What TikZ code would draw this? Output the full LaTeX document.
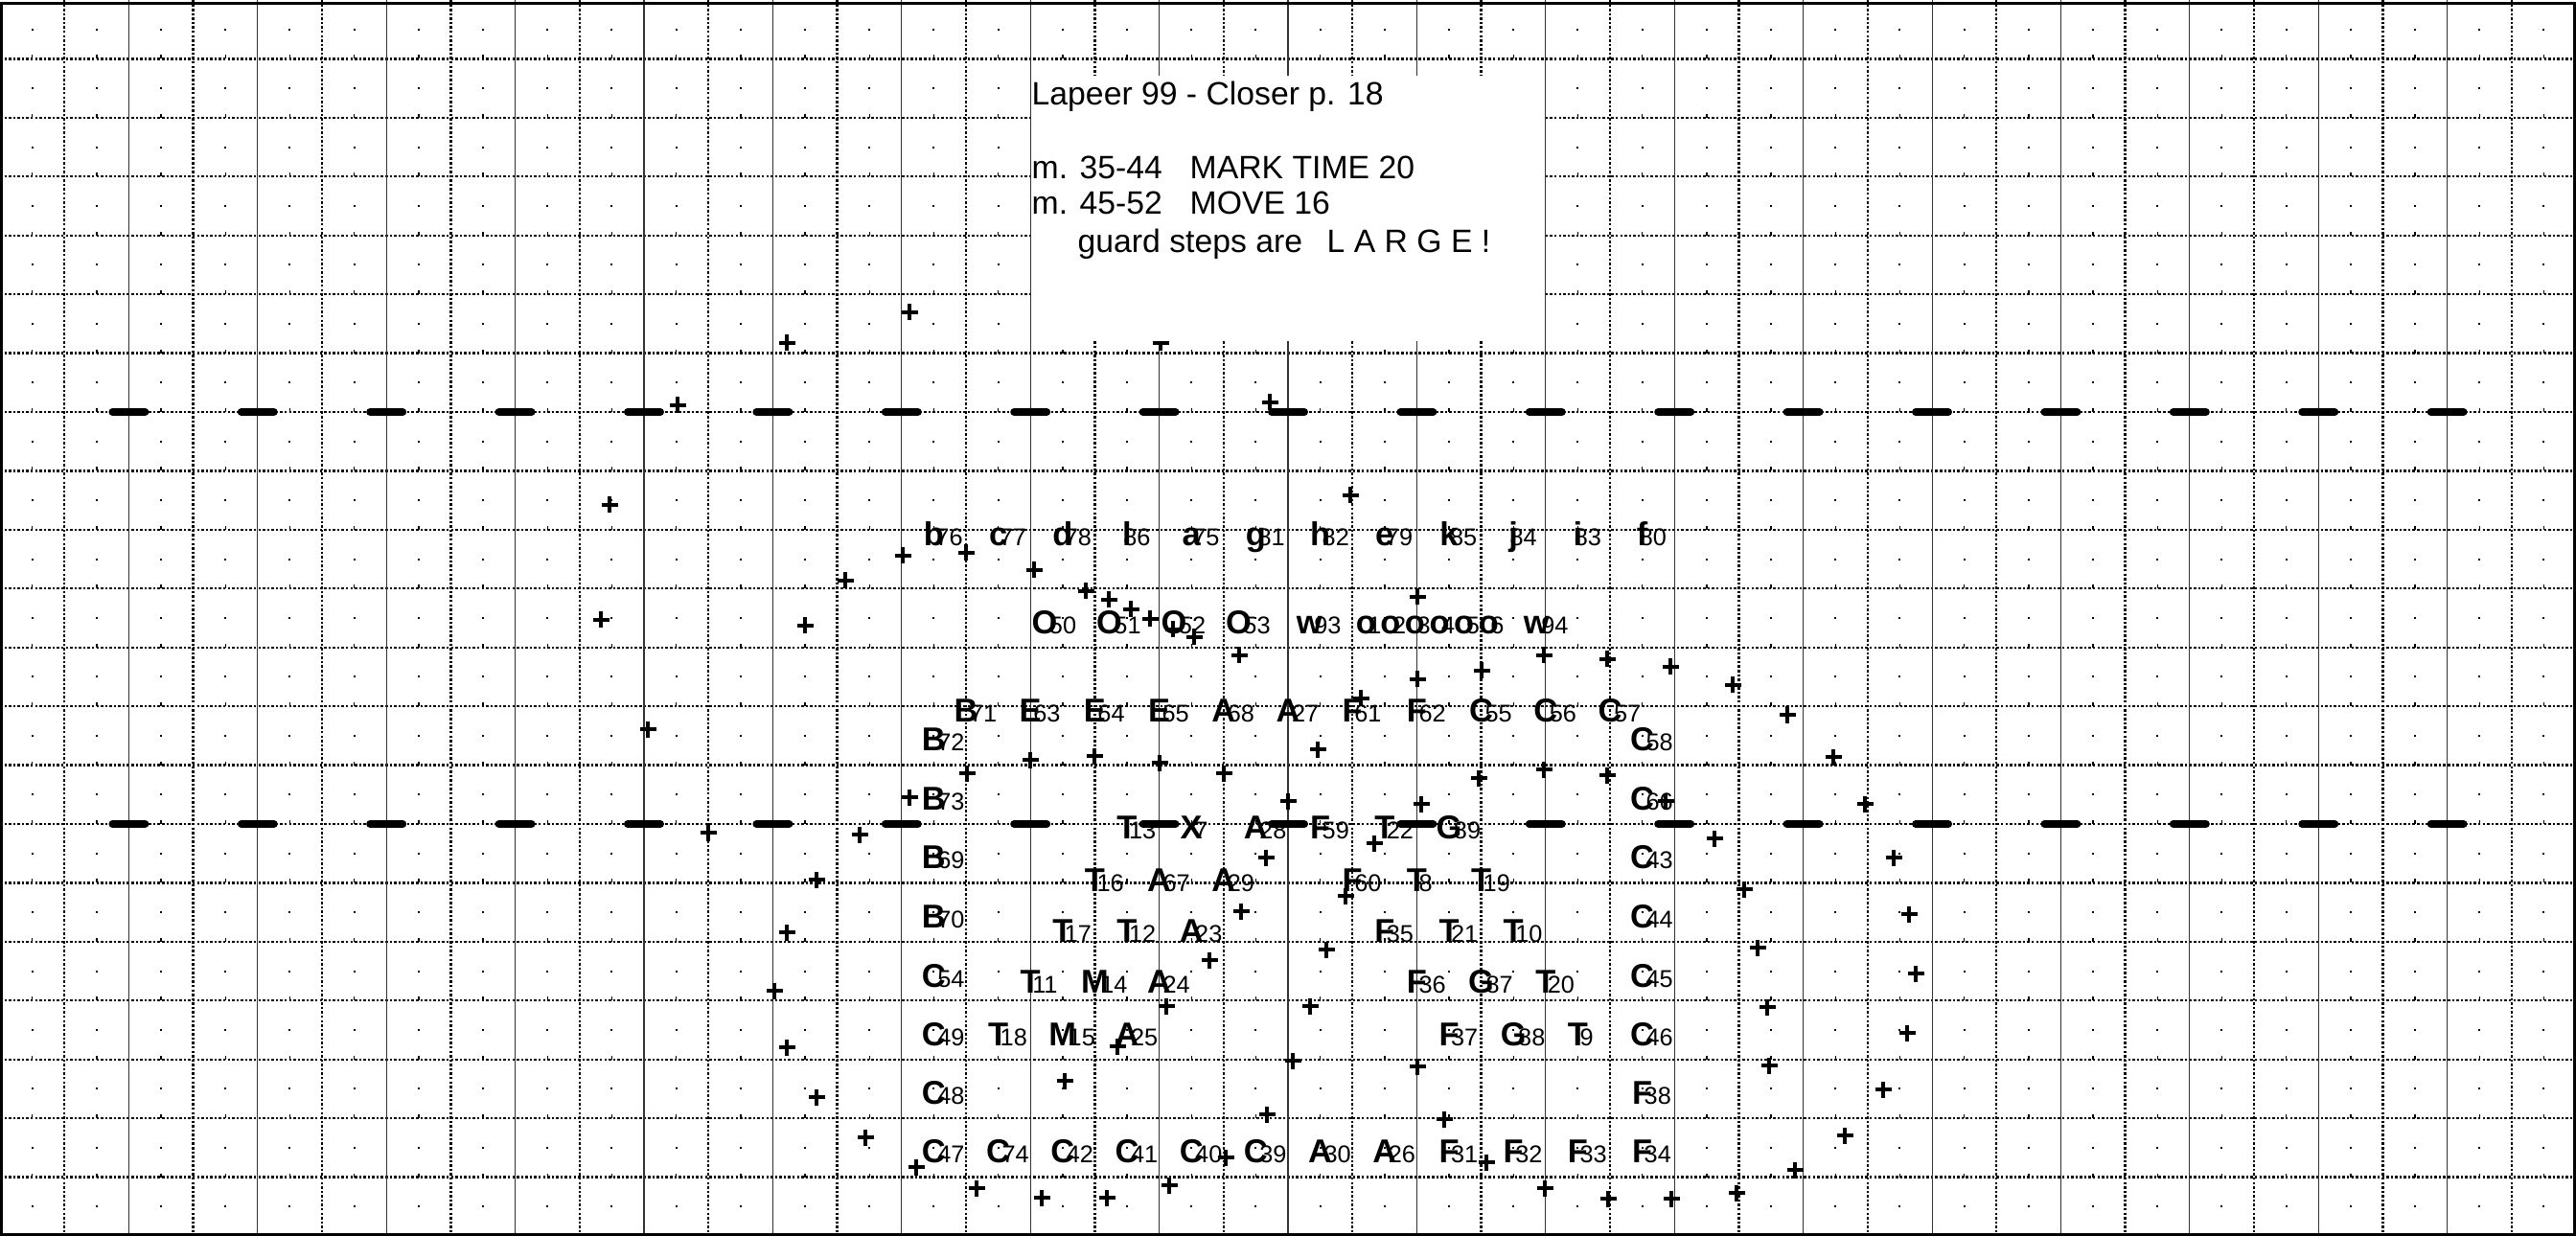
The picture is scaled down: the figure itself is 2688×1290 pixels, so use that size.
\documentclass[tikz,border=0pt]{standalone}
\usepackage{fontspec}
\setmainfont{Liberation Sans}
\newcommand{\drill}[2]{{\fontsize{9.8}{10}\selectfont\bfseries #1}\rlap{\kern-2.4pt\fontsize{7.2}{8}\selectfont #2}}
\tikzset{
  dotline/.style={line width=0.65pt,dash pattern=on 0.7pt off 0.6pt},
  solidline/.style={line width=0.3pt,black!80},
  tickmark/.style={line width=0.4pt},
  hashmark/.style={line width=0.8mm,line cap=round},
  spot/.style={line width=0.42mm},
  lbl/.style={inner sep=0pt,anchor=base},
  note/.style={inner sep=0pt,anchor=base west,font=\fontsize{9.6}{11}\selectfont}
}
\begin{document}
\begin{tikzpicture}[x=0.1mm,y=-0.1mm]
  \useasboundingbox (0,0) rectangle (2688,1290);
  % Step dots
  \foreach \i in {0,...,39} {
    \foreach \j in {0,...,20} {
      \fill (67.2*\i+32.6,61.43*\j+29.7) rectangle ++(2,2);
    }
  }
  % Grid lines
  \foreach \j in {1,...,20} {
    \draw[dotline] (0,61.43*\j) -- (2688,61.43*\j);
    \foreach \i in {0,...,39}
      \draw[tickmark] (67.2*\i+33.6,61.43*\j) -- ++(0,-4);
  }
  \foreach \i in {0,...,19}
    \draw[dotline] ({67.2*(2*\i+1)},0) -- ({67.2*(2*\i+1)},1290);
  \foreach \i in {1,...,19}
    \draw[solidline] (134.4*\i,0) -- (134.4*\i,1290);
  % Hash marks
  \foreach \j in {430,860} {
    \foreach \i in {1,...,19}
      \draw[hashmark] (134.4*\i-17,\j) -- (134.4*\i+17,\j);
  }
  % Frame
  \draw[line width=0.25mm] (1.5,3.5) rectangle (2686.5,1288.5);
  % Cross under the note
  \draw[spot] (1211,358) +(-8.5,0) -- +(8.5,0) +(0,-8.5) -- +(0,8.5);
  % Note
  \fill[white] (1076,79) rectangle (1612,356);
  \node[note] (title) at (1076,110) {Lapeer 99 - Closer p. 18};
  \node[note] (note1) at (1076,186.7) {\makebox[1.65cm][l]{m. 35-44}MARK TIME 20};
  \node[note] (note2) at (1076,224) {\makebox[1.65cm][l]{m. 45-52}MOVE 16};
  \node[note] (note3) at (1124,263.3) {\makebox[2.6cm][l]{guard steps are}L A R G E !};
  % Previous set
  \foreach \x/\y in {949/326,821/358,707/423,1325/420,636/527,1409/517,627/647,840/653,
    882/606,942/580,1008/577,1079/595,1133/617,1157/626,1180/636,1200/646,1224/657,
    1246/665,1293/684,1479/623,1479/709,1546/700,1611/684,1677/688,1743/696,1808/715,
    1865/746,1913/790,1946/839,1976/895,1992/954,1999/1016,1990/1078,1965/1137,
    1925/1185,1873/1221,1812/1245,1744/1251,1678/1251,1612/1240,1551/1213,1507/1168,
    1479/1113,1420/729,1375/782,1075/793,1142/789,1210/796,1009/807,1277/807,1543/812,
    1611/803,1677/809,949/832,1344/836,1483/839,1738/836,1434/880,1321/895,1789/875,
    1820/928,1834/989,1844/1051,1846/1112,1404/935,1295/951,1384/991,1262/1002,
    1217/1050,1367/1050,1166/1092,1349/1107,1111/1128,1322/1163,1279/1208,1220/1237,
    1155/1250,1087/1250,1019/1240,956/1218,903/1187,852/1145,821/1093,808/1034,
    821/973,852/918,897/871,739/869,676/761} {
    \draw[spot] (\x,\y) +(-8.5,0) -- +(8.5,0) +(0,-8.5) -- +(0,8.5);
  }
  % Performers
  \foreach \x/\y/\l/\n in {
    974.4/570/b/76,1041.6/570/c/77,1108.8/570/d/78,1176/570/l/86,1243.2/570/a/75,
    1310.4/570/g/81,1377.6/570/h/82,1444.8/570/e/79,1512/570/k/85,1579.2/570/j/84,
    1646.4/570/i/83,1713.6/570/f/80,
    1090/661.7/O/50,1157.5/661.7/O/51,1225/661.7/O/52,1292.5/661.7/O/53,
    1366.3/661.7/w/93,1425.3/661.7/o/1,1450.9/661.7/o/2,1476.5/661.7/o/3,
    1502.1/661.7/o/4,1527.7/661.7/o/5,1553.3/661.7/o/6,1603.3/661.7/w/94,
    1008/753.3/B/71,1075.2/753.3/E/63,1142.4/753.3/E/64,1209.6/753.3/E/65,
    1276.8/753.3/A/68,1344/753.3/A/27,1411.2/753.3/F/61,1478.4/753.3/F/62,
    1545.6/753.3/C/55,1612.8/753.3/C/56,1680/753.3/C/57,
    974.4/784/B/72,1713.6/784/C/58,974.4/845/B/73,1713.6/845/C/66,
    974.4/906/B/69,1713.6/906/C/43,974.4/968/B/70,1713.6/968/C/44,
    974.4/1030/C/54,1713.6/1030/C/45,974.4/1091.7/C/49,1713.6/1091.7/C/46,
    974.4/1152.5/C/48,1713.6/1152.5/F/38,
    1176/875/T/13,1243.2/875/X/7,1310.4/875/A/28,1377.6/875/F/59,1444.8/875/T/22,
    1512/875/G/89,
    1142.4/930/T/16,1209.6/930/A/67,1276.8/930/A/29,1411.2/930/F/60,1478.4/930/T/8,
    1545.6/930/T/19,
    1108.8/983.3/T/17,1176/983.3/T/12,1243.2/983.3/A/23,1444.8/983.3/F/35,
    1512/983.3/T/21,1579.2/983.3/T/10,
    1075.2/1036.7/T/11,1142.4/1036.7/M/14,1209.6/1036.7/A/24,1478.4/1036.7/F/36,
    1545.6/1036.7/G/87,1612.8/1036.7/T/20,
    1041.6/1091.7/T/18,1108.8/1091.7/M/15,1176/1091.7/A/25,1512/1091.7/F/37,
    1579.2/1091.7/G/88,1646.4/1091.7/T/9,
    974.4/1213/C/47,1041.6/1213/C/74,1108.8/1213/C/42,1176/1213/C/41,1243.2/1213/C/40,
    1310.4/1213/C/39,1377.6/1213/A/30,1444.8/1213/A/26,1512/1213/F/31,1579.2/1213/F/32,
    1646.4/1213/F/33,1713.6/1213/F/34} {
    \node[lbl] (\l\n) at (\x,\y) {\drill{\l}{\n}};
  }
\end{tikzpicture}
\end{document}
